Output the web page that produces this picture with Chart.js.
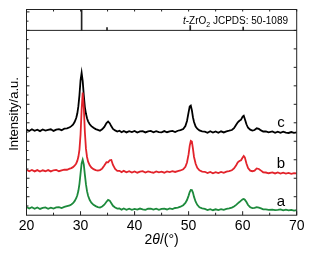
<!DOCTYPE html>
<html>
<head>
<meta charset="utf-8">
<script src="https://cdn.jsdelivr.net/npm/chart.js@4.4.0/dist/chart.umd.min.js"></script>
<style>
  html, body { margin: 0; padding: 0; background: #fff; }
  #wrap { width: 312px; height: 254px; }
</style>
</head>
<body>
<div id="wrap"><canvas id="mychart" width="312" height="254"></canvas></div>
<script>
// 2theta positions (deg), denser around the peaks
var twoTheta = [
  20, 20.5, 21, 21.5, 22, 22.5, 23, 23.5, 24, 24.5, 25, 25.5, 26, 26.5, 27, 27.5, 28,
  28.3, 28.6, 28.9, 29.2, 29.4, 29.6, 29.8, 30.0, 30.2, 30.4, 30.6, 30.8, 31.0, 31.2, 31.4, 31.7, 32.0, 32.4, 32.8,
  33.2, 33.6, 34.0, 34.4, 34.8, 35.1, 35.4, 35.7, 36.0, 36.4, 36.8,
  37.2, 37.6, 38, 38.5, 39, 39.5, 40, 40.5, 41, 41.5, 42, 42.5, 43, 43.5, 44, 44.5, 45, 45.5, 46, 46.5, 47, 47.5, 48, 48.5,
  49.0, 49.4, 49.7, 50.0, 50.2, 50.4, 50.6, 50.8, 51.0, 51.3, 51.6, 52.0, 52.5,
  53, 53.5, 54, 54.5, 55, 55.5, 56, 56.5, 57, 57.5,
  58.0, 58.4, 58.8, 59.1, 59.4, 59.7, 60.0, 60.2, 60.4, 60.7, 61.0, 61.4, 61.8,
  62.2, 62.6, 63.0, 63.4, 63.8, 64.3, 64.8, 65.5, 66, 66.5, 67, 67.5, 68, 68.5, 69, 69.5, 70
];

// intensity (a.u., stacked with offsets as in the figure)
var sampleC = [
  46.4, 45.6, 46.5, 45.7, 46.3, 45.5, 46.4, 45.8, 46.2, 46.5, 45.6, 46.3, 46.6, 46.0, 46.8, 47.0, 47.6,
  48.2, 49.0, 50.4, 52.6, 55.0, 59.0, 65.0, 73.0, 77.0, 72.5, 65.0, 58.5, 55.0, 52.5, 50.8, 49.2, 48.2, 47.3, 46.6,
  46.2, 45.7, 46.5, 47.8, 49.9, 50.7, 49.8, 48.1, 46.7, 45.9, 45.3,
  45.7, 44.9, 45.6, 44.8, 45.5, 45.0, 45.6, 44.7, 45.3, 45.5, 44.8, 45.4, 45.6, 44.9, 45.5, 45.0, 44.8, 45.5, 44.9, 45.4, 45.6, 45.0, 45.7, 46.0,
  46.6, 48.2, 51.0, 55.8, 58.8, 59.3, 56.8, 53.0, 50.4, 48.0, 46.8, 45.9, 45.4,
  45.2, 44.6, 45.4, 44.7, 45.3, 44.6, 45.4, 44.8, 45.4, 45.7,
  46.1, 47.1, 48.9, 50.3, 51.1, 51.7, 53.4, 53.8, 52.1, 49.2, 47.3, 46.3, 45.8,
  46.1, 47.0, 46.7, 45.9, 45.3, 45.4, 44.8, 45.3, 44.6, 45.2, 44.6, 45.2, 44.7, 44.5, 45.0, 44.6, 44.8
];
var sampleB = [
  24.6, 23.8, 24.5, 23.7, 24.4, 23.6, 24.3, 23.8, 24.4, 23.7, 24.3, 24.5, 23.8, 24.3, 24.7, 24.6, 25.2,
  25.5, 26.0, 26.8, 28.0, 29.4, 31.6, 35.5, 43.5, 57.0, 66.3, 58.5, 45.0, 36.0, 31.5, 29.0, 27.0, 25.8, 24.9, 24.4,
  24.1, 24.4, 25.2, 26.9, 28.7, 28.6, 29.7, 29.9, 27.2, 25.0, 24.0,
  24.0, 23.3, 24.0, 23.2, 23.8, 23.1, 23.7, 23.0, 23.6, 23.8, 23.1, 23.7, 23.3, 23.0, 23.7, 23.2, 23.6, 23.0, 23.7, 23.3, 23.8, 23.4, 23.9, 24.2,
  24.8, 26.2, 28.5, 33.0, 37.5, 40.2, 39.8, 36.0, 31.5, 27.8, 25.6, 24.3, 23.6,
  23.5, 22.8, 23.4, 22.7, 23.3, 22.8, 23.4, 22.9, 23.6, 23.9,
  24.3, 25.3, 27.0, 28.6, 29.3, 29.7, 31.2, 32.0, 31.3, 28.0, 25.5, 24.1, 23.8,
  24.1, 25.3, 25.0, 24.1, 23.2, 23.1, 22.7, 23.2, 22.6, 23.1, 22.5, 23.0, 22.5, 22.9, 22.4, 22.8, 22.6
];
var sampleA = [
  4.4, 3.6, 4.3, 3.5, 4.2, 3.4, 4.0, 4.2, 3.5, 4.1, 3.6, 4.2, 4.4, 3.9, 4.5, 4.9, 5.3,
  5.8, 6.5, 7.6, 9.2, 10.8, 13.2, 17.0, 22.5, 28.0, 30.0, 27.5, 22.0, 16.8, 13.0, 10.5, 8.2, 6.8, 5.6, 4.9,
  4.4, 4.1, 4.7, 5.7, 7.3, 8.3, 7.9, 6.5, 5.1, 4.2, 3.6,
  3.7, 3.0, 3.6, 2.9, 3.5, 2.9, 3.4, 3.0, 3.6, 3.1, 2.9, 3.5, 3.6, 3.0, 3.5, 2.9, 3.4, 3.6, 3.1, 3.7, 3.3, 3.9, 4.1, 4.6,
  5.4, 6.6, 8.2, 10.6, 12.5, 13.7, 13.6, 12.2, 9.9, 7.3, 5.6, 4.3, 3.7,
  3.4, 2.8, 3.3, 2.7, 3.2, 2.8, 3.3, 2.9, 3.4, 3.7,
  4.1, 4.7, 5.6, 6.4, 7.1, 7.9, 8.6, 8.8, 8.4, 7.1, 5.5, 4.3, 3.8,
  4.0, 4.4, 4.1, 3.7, 3.2, 3.1, 2.9, 3.0, 2.8, 2.9, 3.1, 2.6, 3.0, 2.6, 2.9, 2.5, 2.8
];

// reference pattern t-ZrO2 JCPDS 50-1089 (top panel, sits on y = 100)
var stickPos = [30.2, 34.9, 50.3, 60.1];
var stickHeight = [11.3, 1.5, 2.6, 1.8];

var xTickValues = [20, 30, 40, 50, 60, 70];
var curveNames = ['c', 'b', 'a'];
var curveLabelY = [47.5, 25.4, 5.0];
var curveLabelX = 67.1;

var FONT = '"Liberation Sans", Arial, sans-serif';
var PANEL_SPLIT = 100;   // y value where the stick panel starts
var Y_MAX = 111.3;

function toPoints(ys) {
  return twoTheta.map(function (t, i) { return { x: t, y: ys[i] }; });
}

// frame, inward ticks and the texts that Chart.js can't style
var decorPlugin = {
  id: 'decor',
  afterDraw: function (chart) {
    var ctx = chart.ctx;
    var xs = chart.scales.x, ys = chart.scales.y;
    var a = chart.chartArea;
    var ySplit = ys.getPixelForValue(PANEL_SPLIT);
    ctx.save();
    ctx.strokeStyle = '#222';
    ctx.lineWidth = 1;
    ctx.strokeRect(a.left, a.top, a.right - a.left, a.bottom - a.top);
    ctx.beginPath();
    ctx.moveTo(a.left, ySplit);
    ctx.lineTo(a.right, ySplit);
    ctx.stroke();

    ctx.beginPath();
    for (var v = 20; v <= 70; v += 5) {
      var px = xs.getPixelForValue(v);
      var len = (v % 10 === 0) ? 4 : 2.5;
      ctx.moveTo(px, a.bottom);
      ctx.lineTo(px, a.bottom - len);
      ctx.moveTo(px, a.top);
      ctx.lineTo(px, a.top + 2);
    }
    for (var w = 5; w < Y_MAX; w += 5) {
      var py = ys.getPixelForValue(w);
      ctx.moveTo(a.left, py);
      ctx.lineTo(a.left + ((w % 10 === 0) ? 3 : 2), py);
      if (w % 10 === 0 && w <= PANEL_SPLIT) {
        ctx.moveTo(a.right, py);
        ctx.lineTo(a.right - 3, py);
      }
    }
    ctx.stroke();

    // sample letters
    ctx.fillStyle = '#000';
    ctx.font = '15px ' + FONT;
    ctx.textAlign = 'center';
    ctx.textBaseline = 'alphabetic';
    for (var i = 0; i < curveNames.length; i++) {
      ctx.fillText(curveNames[i], xs.getPixelForValue(curveLabelX), ys.getPixelForValue(curveLabelY[i]));
    }

    // y title
    ctx.save();
    ctx.translate(14, 114);
    ctx.rotate(-Math.PI / 2);
    ctx.font = '13px ' + FONT;
    ctx.textBaseline = 'middle';
    ctx.fillText('Intensity/a.u.', 0, 0);
    ctx.restore();

    // x title 2θ/(°) with italic theta
    ctx.textAlign = 'left';
    var parts = [['2', '14px ' + FONT], ['\u03B8', 'italic 14px ' + FONT], ['/(\u00B0)', '14px ' + FONT]];
    var total = 0;
    parts.forEach(function (p) { ctx.font = p[1]; total += ctx.measureText(p[0]).width; });
    var cx = (a.left + a.right) / 2 - total / 2;
    parts.forEach(function (p) {
      ctx.font = p[1];
      ctx.fillText(p[0], cx, 243.5);
      cx += ctx.measureText(p[0]).width;
    });

    // card label in the top panel
    var lab = [['t', 'italic 10px ' + FONT, 0], ['-ZrO', '10px ' + FONT, 0], ['2', '7px ' + FONT, 3], [' JCPDS: 50-1089', '10px ' + FONT, 0]];
    var lw = 0;
    lab.forEach(function (p) { ctx.font = p[1]; lw += ctx.measureText(p[0]).width; });
    var lx = 288 - lw;
    lab.forEach(function (p) {
      ctx.font = p[1];
      ctx.fillText(p[0], lx, 23.5 + p[2]);
      lx += ctx.measureText(p[0]).width;
    });
    ctx.restore();
  }
};

var ctx = document.getElementById('mychart').getContext('2d');
var chart = new Chart(ctx, {
  type: 'line',
  data: {
    datasets: [
      { label: 'b', data: toPoints(sampleB), borderColor: '#e2232b', borderWidth: 1.8, pointRadius: 0, order: 1, tension: 0 },
      { label: 'a', data: toPoints(sampleA), borderColor: '#1d8a3c', borderWidth: 1.8, pointRadius: 0, order: 2, tension: 0 },
      { label: 'c', data: toPoints(sampleC), borderColor: '#000000', borderWidth: 1.8, pointRadius: 0, order: 3, tension: 0 },
      {
        type: 'bar',
        label: 'JCPDS 50-1089',
        data: stickPos.map(function (p, i) { return { x: p, y: [PANEL_SPLIT, PANEL_SPLIT + stickHeight[i]] }; }),
        backgroundColor: '#222',
        barThickness: 1,
        order: 0
      }
    ]
  },
  options: {
    responsive: false,
    animation: false,
    layout: { padding: { left: 26.5, right: 15.3, top: 9.5, bottom: 16 } },
    plugins: { legend: { display: false }, tooltip: { enabled: false } },
    scales: {
      x: {
        type: 'linear',
        min: 20, max: 70,
        offset: false,
        grid: { display: false, drawTicks: false },
        border: { display: false },
        afterBuildTicks: function (scale) {
          scale.ticks = xTickValues.map(function (v) { return { value: v }; });
        },
        ticks: { font: { family: FONT, size: 14 }, color: '#000', padding: 3, maxRotation: 0, autoSkip: false }
      },
      y: {
        display: false,
        min: 0, max: Y_MAX
      }
    }
  },
  plugins: [decorPlugin]
});
</script>
</body>
</html>
